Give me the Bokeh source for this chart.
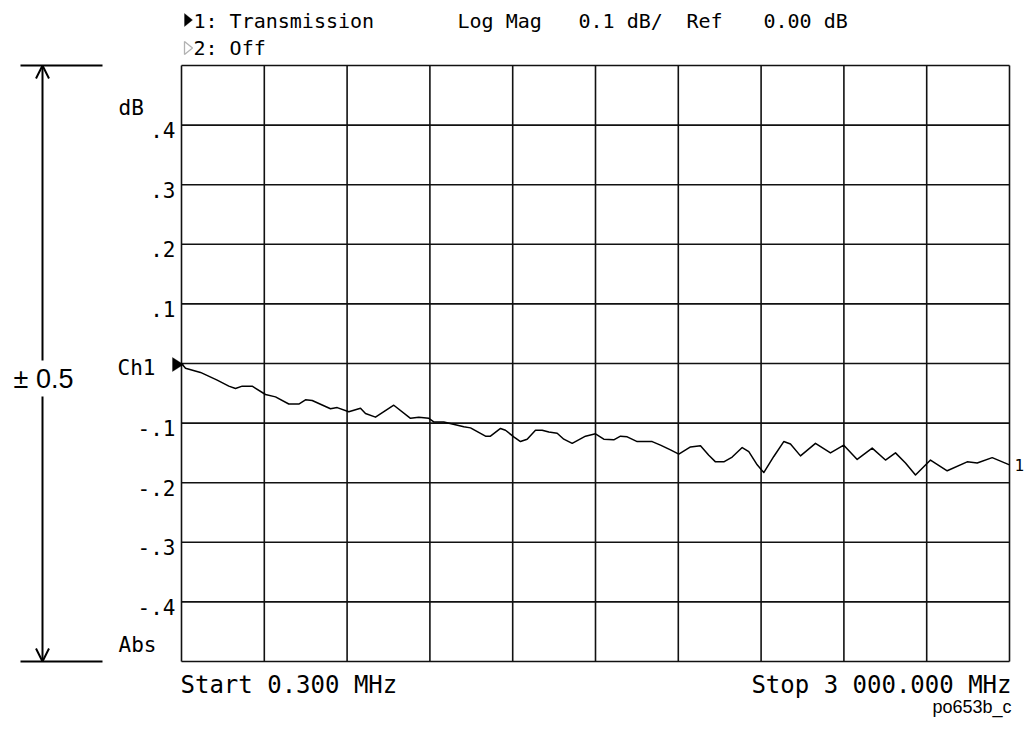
from bokeh.plotting import figure
from bokeh.models import Range1d, Label, Arrow, OpenHead, PolyAnnotation
from bokeh.embed import file_html
from bokeh.resources import INLINE

# ---------------- data ----------------
start_mhz = 0.3
stop_mhz = 3000.0
ref_db = 0.0
scale_db = 0.1
n_div = 10

freq_mhz = [0.3, 14.8, 69.1, 129.6, 171.7, 195.9, 220.2, 256.4, 304.6, 340.8,
            389.0, 425.3, 449.5, 473.8, 540.1, 564.4, 606.4, 648.8, 666.9, 703.1,
            769.4, 829.9, 860.0, 896.2, 914.3, 950.6, 1023.0, 1047.3, 1101.6, 1119.7,
            1156.0, 1174.1, 1204.0, 1228.4, 1252.6, 1282.7, 1307.0, 1331.0, 1361.4, 1385.3,
            1415.7, 1463.9, 1500.1, 1530.2, 1566.4, 1590.7, 1615.0, 1651.2, 1705.5, 1735.6,
            1771.8, 1801.9, 1844.3, 1880.5, 1910.6, 1934.9, 1965.0, 1995.4, 2031.6, 2055.5,
            2085.9, 2109.8, 2146.1, 2182.2, 2206.5, 2242.8, 2297.1, 2351.4, 2399.6, 2448.2,
            2502.5, 2550.7, 2586.9, 2623.2, 2659.4, 2713.8, 2774.3, 2846.7, 2883.0, 2937.3,
            3000.0]
trace_db = [0.000, -0.008, -0.015, -0.028, -0.038, -0.042, -0.038, -0.038, -0.052, -0.056,
            -0.068, -0.068, -0.061, -0.062, -0.076, -0.074, -0.081, -0.075, -0.084, -0.090,
            -0.070, -0.092, -0.090, -0.092, -0.098, -0.098, -0.106, -0.108, -0.122, -0.122,
            -0.109, -0.112, -0.123, -0.131, -0.127, -0.112, -0.112, -0.115, -0.117, -0.127,
            -0.134, -0.122, -0.118, -0.127, -0.128, -0.122, -0.123, -0.131, -0.131, -0.137,
            -0.145, -0.152, -0.140, -0.138, -0.154, -0.165, -0.165, -0.157, -0.141, -0.148,
            -0.170, -0.183, -0.156, -0.131, -0.135, -0.155, -0.134, -0.150, -0.137, -0.161,
            -0.142, -0.162, -0.150, -0.167, -0.187, -0.162, -0.180, -0.165, -0.167, -0.158,
            -0.170]

y_tick_values = [0.4, 0.3, 0.2, 0.1, -0.1, -0.2, -0.3, -0.4]
y_tick_labels = [".4", ".3", ".2", ".1", "-.1", "-.2", "-.3", "-.4"]

header_1 = "1: Transmission"
header_2 = "2: Off"
header_fmt = ["Log Mag", "0.1 dB/", "Ref", "0.00 dB"]
start_label = "Start 0.300 MHz"
stop_label = "Stop 3 000.000 MHz"
span_label = "\u00b1 0.5"
fig_id = "po653b_c"

# ---------------- layout ----------------
W, H = 1025, 743
FL, FT, FW, FH = 181, 65, 828, 596          # instrument graticule in page pixels
y_top = ref_db + 5 * scale_db
y_bot = ref_db - 5 * scale_db

def xd(px):
    return start_mhz + (px - FL) / FW * (stop_mhz - start_mhz)

def yd(py):
    return y_top - (py - FT) / FH * (y_top - y_bot)

MONO = "DejaVu Sans Mono"
SANS = "Liberation Sans"
INK = "#111111"

p = figure(width=W, height=H, output_backend="svg", toolbar_location=None,
           x_axis_location=None, y_axis_location=None, min_border=0,
           x_range=Range1d(xd(0), xd(W)), y_range=Range1d(yd(H), yd(0)))
p.background_fill_color = "white"
p.border_fill_color = "white"
p.outline_line_color = None
p.grid.visible = False

# graticule: 10 x 10 divisions
step = (stop_mhz - start_mhz) / n_div
x_div = [start_mhz + i * step for i in range(n_div + 1)]
y_div = [y_bot + i * scale_db for i in range(n_div + 1)]
p.multi_line(xs=[[x, x] for x in x_div], ys=[[y_bot, y_top]] * len(x_div),
             line_color=INK, line_width=1.6)
p.multi_line(xs=[[start_mhz, stop_mhz]] * len(y_div), ys=[[y, y] for y in y_div],
             line_color=INK, line_width=1.6)

# trace
p.line(freq_mhz, trace_db, line_color="black", line_width=1.5, line_join="round")

def lab(text, px, py, size, font=MONO, align="left"):
    p.add_layout(Label(x=xd(px), y=yd(py), text=text, text_font=font,
                       text_font_size=f"{size}px", text_align=align,
                       text_baseline="middle", text_color="black"))

# y tick labels (drawn a few pixels below their lines, as on the plotter)
for v, t in zip(y_tick_values, y_tick_labels):
    p.add_layout(Label(x=xd(175), y=v, y_offset=-5, text=t, text_font=MONO,
                       text_font_size="21px", text_align="right",
                       text_baseline="middle", text_color="black"))
lab("dB", 118, 107, 21)
lab("Ch1", 117, 367, 21)
lab("Abs", 118, 644, 21)

# reference marker
p.add_layout(PolyAnnotation(xs=[xd(172), xd(172), xd(183)], ys=[yd(357), yd(371), yd(364)],
                            fill_color="black", fill_alpha=1, line_color="black", line_width=1))

# header
p.add_layout(PolyAnnotation(xs=[xd(184), xd(184), xd(192)], ys=[yd(13), yd(26), yd(19.5)],
                            fill_color="black", fill_alpha=1, line_color="black", line_width=1))
p.add_layout(PolyAnnotation(xs=[xd(184), xd(184), xd(192)], ys=[yd(41), yd(54), yd(47.5)],
                            fill_color="white", fill_alpha=1, line_color="black", line_width=1.3))
lab(header_1, 193, 20, 20)
lab(header_2, 193, 47, 20)
for t, px in zip(header_fmt, [457, 578, 686, 763]):
    lab(t, px, 20, 20)

# bottom annotations
lab(start_label, 180, 684, 24)
lab(stop_label, 1011, 684, 24, align="right")
lab(fig_id, 1011, 706, 18, font=SANS, align="right")

# trace number at the end of the trace
p.add_layout(Label(x=freq_mhz[-1], y=trace_db[-1], x_offset=5, text="1", text_font=MONO,
                   text_font_size="16px", text_align="left", text_baseline="middle",
                   text_color="black"))

# +/- span arrow
ax = xd(42)
p.add_layout(Arrow(x_start=ax, y_start=yd(360), x_end=ax, y_end=yd(65),
                   start=None, end=OpenHead(size=13, line_width=2, line_color="black"),
                   line_width=2, line_color="black"))
p.add_layout(Arrow(x_start=ax, y_start=yd(396), x_end=ax, y_end=yd(661),
                   start=None, end=OpenHead(size=13, line_width=2, line_color="black"),
                   line_width=2, line_color="black"))
for py in (65, 661):
    p.add_layout(Arrow(x_start=xd(20), y_start=yd(py), x_end=xd(102), y_end=yd(py),
                       start=None, end=None, line_width=2, line_color="black"))
lab(span_label, 43, 378, 27, font=SANS, align="center")

open("out.html", "w").write(file_html(p, INLINE))
